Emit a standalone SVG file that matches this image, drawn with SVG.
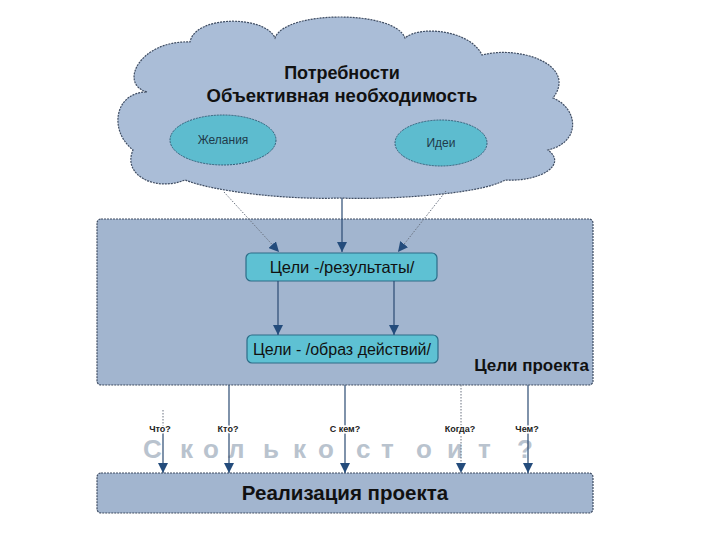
<svg xmlns="http://www.w3.org/2000/svg" width="720" height="540" viewBox="0 0 720 540">
<defs>
<style>
text{font-family:"Liberation Sans",Arial,sans-serif;}
.bold{font-weight:bold;fill:#111;}
.panel{fill:#a2b5cf;stroke:#3f4d63;stroke-width:1.2;stroke-dasharray:2 1;}
.cloud{fill:#aabdd7;stroke:#3f4d63;stroke-width:1.2;stroke-dasharray:2 1;}
.ell{fill:#5dbccf;stroke:#2f5f78;stroke-width:1;stroke-dasharray:2 1;}
.box{fill:#5ec1d3;stroke:#2c6d88;stroke-width:1.2;}
.solid{stroke:#2a4a72;stroke-width:1.2;fill:none;}
.dot{stroke:#6a7280;stroke-width:1;stroke-dasharray:1.5 1.5;fill:none;}
.q{font-size:9px;font-weight:bold;fill:#222;text-anchor:middle;paint-order:stroke;stroke:#fff;stroke-width:3px;}
</style>
<marker id="ah" viewBox="0 0 10 10" refX="10" refY="5" markerWidth="10" markerHeight="10" markerUnits="userSpaceOnUse" orient="auto">
<path d="M0,0 L10,5 L0,10 Z" fill="#244c7c"/>
</marker>
</defs>
<rect width="720" height="540" fill="#fff"/>

<g id="cloud">
<path class="cloud" d="M147,92 C118,84 140,40 190,42 C195,15 265,15 275,38 C285,10 395,10 405,38 C420,25 470,30 482,55 C520,45 578,65 553,98 C578,108 582,142 548,150 C568,165 540,182 505,180 C480,195 380,200 340,198 C290,200 215,192 185,180 C155,192 122,175 133,150 C108,130 115,92 147,92 Z"/>
<text class="bold" x="342" y="79" font-size="18" text-anchor="middle">Потребности</text>
<text class="bold" x="342" y="102" font-size="18.5" text-anchor="middle">Объективная необходимость</text>
</g>

<g id="zhelaniya">
<ellipse class="ell" cx="223" cy="140" rx="53" ry="25"/>
<text x="223" y="144" font-size="12" fill="#1f3a4a" text-anchor="middle">Желания</text>
</g>
<g id="idei">
<ellipse class="ell" cx="441" cy="143" rx="46" ry="23"/>
<text x="441" y="147" font-size="12" fill="#1f3a4a" text-anchor="middle">Идеи</text>
</g>

<g id="tseli-proekta">
<rect class="panel" x="97" y="219" width="496" height="166" rx="4"/>
<text class="bold" x="589" y="371" font-size="17" text-anchor="end">Цели проекта</text>
</g>

<g id="rezultaty">
<rect class="box" x="246" y="253" width="191" height="28" rx="5"/>
<text x="342" y="273" font-size="16.5" fill="#111" text-anchor="middle">Цели -/результаты/</text>
</g>
<g id="obraz">
<rect class="box" x="247" y="335" width="191" height="28" rx="5"/>
<text x="342" y="355" font-size="16" fill="#111" text-anchor="middle">Цели - /образ действий/</text>
</g>

<g id="skolko">
<text x="143 180 203 228 263 293 318 340 356 381 416 447 478 500 517" y="458" font-size="26" font-weight="bold" fill="#b9c3ce">Сколько стоит ?</text>
</g>

<g id="realizatsiya">
<rect class="panel" x="97" y="473" width="496" height="40" rx="4"/>
<text class="bold" x="345" y="500" font-size="20.5" text-anchor="middle">Реализация проекта</text>
</g>

<g id="connectors">
<line class="dot" x1="224" y1="192" x2="279" y2="252" marker-end="url(#ah)"/>
<line class="solid" x1="342" y1="198" x2="342" y2="252" marker-end="url(#ah)"/>
<line class="dot" x1="446" y1="191" x2="398" y2="252" marker-end="url(#ah)"/>
<line class="solid" x1="278" y1="281" x2="278" y2="335" marker-end="url(#ah)"/>
<line class="solid" x1="394" y1="281" x2="394" y2="335" marker-end="url(#ah)"/>
<line class="dot" x1="163" y1="410" x2="163" y2="428"/>
<line class="solid" x1="163" y1="430" x2="163" y2="473" marker-end="url(#ah)"/>
<line class="solid" x1="229" y1="385" x2="229" y2="473" marker-end="url(#ah)"/>
<line class="solid" x1="345" y1="385" x2="345" y2="473" marker-end="url(#ah)"/>
<line class="dot" x1="461" y1="385" x2="461" y2="473" marker-end="url(#ah)"/>
<line class="solid" x1="528" y1="385" x2="528" y2="473" marker-end="url(#ah)"/>
<text class="q" x="160" y="432">Что?</text>
<text class="q" x="228" y="432">Кто?</text>
<text class="q" x="345" y="432">С кем?</text>
<text class="q" x="460" y="432">Когда?</text>
<text class="q" x="527" y="432">Чем?</text>
</g>
</svg>
